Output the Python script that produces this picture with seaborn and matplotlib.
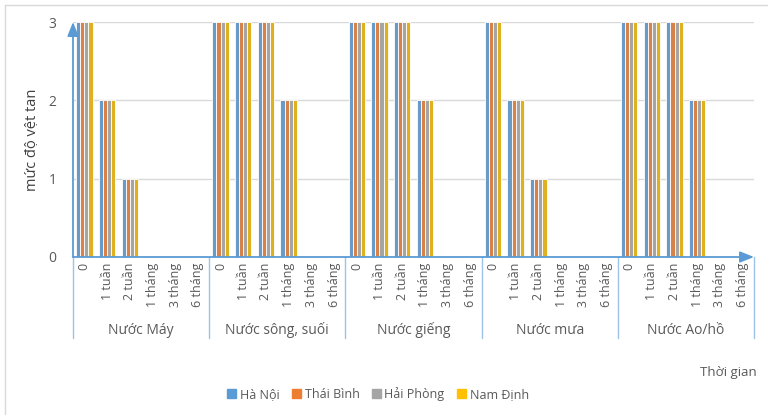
import matplotlib
matplotlib.use("Agg")
import matplotlib.pyplot as plt
import seaborn as sns
import pandas as pd
from matplotlib.patches import Rectangle
from matplotlib.lines import Line2D

sns.set_theme(style="white")
plt.rcParams['font.family'] = ['Open Sans', 'DejaVu Sans']

groups = ["Nước Máy", "Nước sông, suối", "Nước giếng", "Nước mưa", "Nước Ao/hồ"]
times = ["0", "1 tuần", "2 tuần", "1 tháng", "3 tháng", "6 tháng"]
series = ["Hà Nội", "Thái Bình", "Hải Phòng", "Nam Định"]
colors = ["#5B9BD5", "#ED7D31", "#A5A5A5", "#FFC000"]

# values per group (same for all four provinces)
nuoc_may = [3, 2, 1, 0, 0, 0]
nuoc_song = [3, 3, 3, 2, 0, 0]
nuoc_gieng = [3, 3, 3, 2, 0, 0]
nuoc_mua = [3, 2, 1, 0, 0, 0]
nuoc_ao = [3, 3, 3, 2, 0, 0]
group_values = [nuoc_may, nuoc_song, nuoc_gieng, nuoc_mua, nuoc_ao]

rows = []
order = []
for g, vals in zip(groups, group_values):
    for t, v in zip(times, vals):
        key = g + "|" + t
        order.append(key)
        for s in series:
            rows.append({"key": key, "value": v, "series": s})
df = pd.DataFrame(rows)

fig = plt.figure(figsize=(7.68, 4.15), dpi=100)
W, H = 768, 415
x0, x1, y0, y1 = 73, 754, 22, 257
ax = fig.add_axes([x0 / W, 1 - y1 / H, (x1 - x0) / W, (y1 - y0) / H])

sns.barplot(data=df, x="key", y="value", hue="series", order=order,
            hue_order=series, palette=colors, width=0.72, ax=ax,
            edgecolor="white", linewidth=0.6, legend=False)

ax.set_xlim(-0.5, len(order) - 0.5)
ax.set_ylim(0, 3)
ax.set_yticks([0, 1, 2, 3])
ax.set_yticklabels(["0", "1", "2", "3"], fontsize=10, color="#595959")
ax.yaxis.grid(True, color="#D9D9D9", linewidth=1)
ax.set_axisbelow(True)
for sp in ax.spines.values():
    sp.set_visible(False)
ax.tick_params(axis="both", length=0)
ax.tick_params(axis="y", pad=12)
ax.set_xticks(range(len(order)))
ax.set_xticklabels([k.split("|")[1] for k in order], rotation=90, fontsize=9,
                   color="#595959", va="top")
ax.tick_params(axis="x", pad=4)
ax.set_xlabel("")
ax.set_ylabel("mức độ vệt tan", fontsize=10.5, color="#404040", labelpad=6)

axis_col = "#5B9BD5"
# axes with arrows
ax.annotate("", xy=(1.0, 0), xytext=(0, 0), xycoords="axes fraction",
            arrowprops=dict(arrowstyle="-|>,head_length=0.7,head_width=0.28",
                            color=axis_col, lw=1.3, shrinkA=0, shrinkB=0))
ax.annotate("", xy=(0, 1.0), xytext=(0, 0), xycoords="axes fraction",
            arrowprops=dict(arrowstyle="-|>,head_length=0.7,head_width=0.28",
                            color=axis_col, lw=1.3, shrinkA=0, shrinkB=0))

# group separators
sep_bottom = -(338 - y1) / (y1 - y0)
for i in range(len(groups) + 1):
    xv = -0.5 + 6 * i
    ax.plot([xv, xv], [0, sep_bottom], transform=ax.get_xaxis_transform(),
            color="#9DC3E6", lw=1, clip_on=False)
for i, g in enumerate(groups):
    ax.text(6 * i + 2.5, -(330 - y1) / (y1 - y0), g,
            transform=ax.get_xaxis_transform(), ha="center", va="center",
            fontsize=10, color="#595959")

fig.text(757 / W, 1 - 372 / H, "Thời gian", ha="right", va="center",
         fontsize=9.5, color="#595959")

handles = [Rectangle((0, 0), 1, 1, color=c) for c in colors]
fig.legend(handles, series, loc="center", bbox_to_anchor=(378 / W, 1 - 394 / H),
           ncol=4, frameon=False, fontsize=9, handlelength=0.7, handleheight=0.7,
           handletextpad=0.3, columnspacing=1.0, labelcolor="#595959")

# outer frame lines
fig.add_artist(Line2D([5 / W, 5 / W], [0, 1 - 5 / H], transform=fig.transFigure,
                      color="#D9D9D9", lw=1))
fig.add_artist(Line2D([5 / W, 1], [1 - 5 / H, 1 - 5 / H], transform=fig.transFigure,
                      color="#D9D9D9", lw=1))

fig.savefig("out.png", dpi=100)
